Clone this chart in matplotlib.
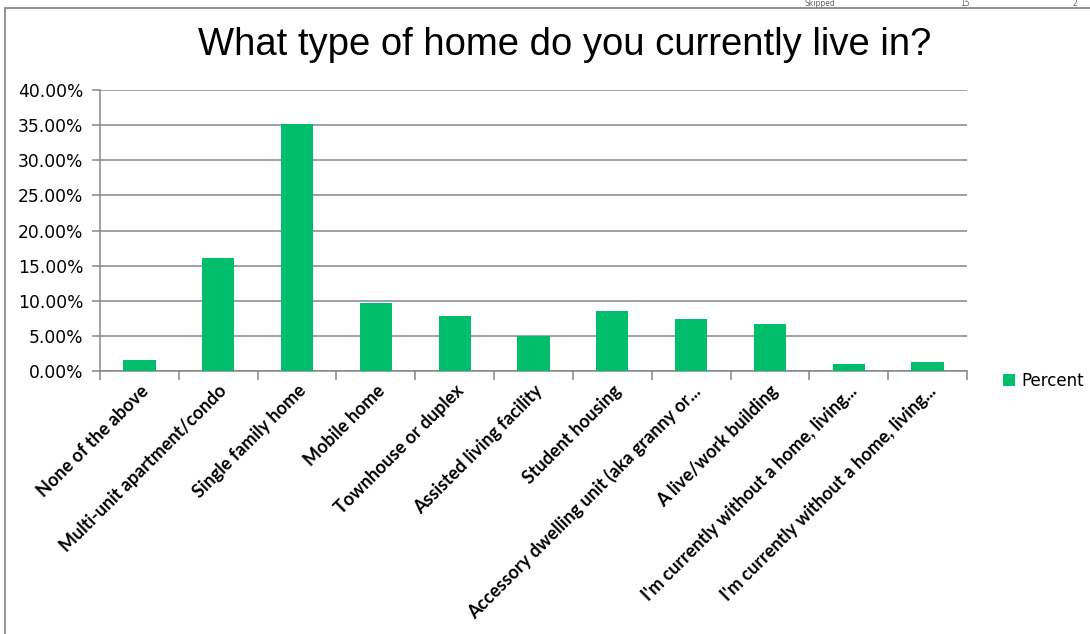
import numpy as np
import matplotlib
matplotlib.use("Agg")
import matplotlib.pyplot as plt
from matplotlib.patches import Rectangle
from matplotlib.ticker import FuncFormatter, FixedLocator

categories = ["None of the above", "Multi-unit apartment/condo", "Single family home",
              "Mobile home", "Townhouse or duplex", "Assisted living facility",
              "Student housing", "Accessory dwelling unit (aka granny or...",
              "A live/work building", "I'm currently without a home, living...",
              "I'm currently without a home, living..."]
percent = [1.6, 16.1, 35.1, 9.75, 7.8, 4.95, 8.5, 7.4, 6.7, 1.05, 1.3]
yticks = [0, 5, 10, 15, 20, 25, 30, 35, 40]

green = "#00be6b"
grey = "#868686"

fig = plt.figure(figsize=(10.9, 6.34), dpi=100)
# outer frame of the chart object
fig.patches.append(Rectangle((5 / 1090, -0.1), 1.2, 1 - 8 / 634 + 0.1, transform=fig.transFigure,
                             fill=False, edgecolor="#7f7f7f", linewidth=1.2))
# header fragments above the frame
for xt, t in [(820, "Skipped"), (965, "15"), (1075, "2")]:
    fig.text(xt / 1090, 1 - 8 / 634, t, ha="center", va="bottom", fontsize=5.5, color="#666666")

ax = fig.add_axes([100 / 1090, 1 - 371 / 634, 867 / 1090, 281 / 634])
x = np.arange(len(categories))
ax.bar(x, percent, width=0.41, color=green, label="Percent", zorder=3)

ax.set_xlim(-0.5, len(categories) - 0.5)
ax.set_ylim(0, 40)
ax.set_yticks(yticks)
ax.yaxis.set_major_formatter(FuncFormatter(lambda v, p: f"{v:.2f}%"))
ax.grid(axis="y", color=grey, linewidth=1.1, zorder=0)

for s in ["top", "right"]:
    ax.spines[s].set_visible(False)
for s in ["left", "bottom"]:
    ax.spines[s].set_color(grey)
    ax.spines[s].set_linewidth(1.1)

ax.xaxis.set_major_locator(FixedLocator(np.arange(-0.5, len(categories), 1.0)))
ax.set_xticklabels([])
ax.set_xticks(x, minor=True)
ax.set_xticklabels(categories, minor=True, rotation=45, ha="right", rotation_mode="anchor",
                   fontsize=13, fontweight="bold", family="Lato")
ax.tick_params(axis="x", which="major", length=6.5, color=grey, width=1.1)
ax.tick_params(axis="x", which="minor", length=0, pad=8)
ax.tick_params(axis="y", length=6, color=grey, width=1.1, labelsize=12.3, pad=6)

fig.text(0.518, 1 - 45 / 634, "What type of home do you currently live in?", ha="center", va="center",
         fontsize=27.5, family="Liberation Sans")

fig.legend(loc="center left", bbox_to_anchor=(996 / 1090, 1 - 381 / 634), frameon=False,
           fontsize=12, handlelength=0.75, handleheight=0.75, handletextpad=0.4, borderaxespad=0)

fig.savefig("out.png", dpi=100)
